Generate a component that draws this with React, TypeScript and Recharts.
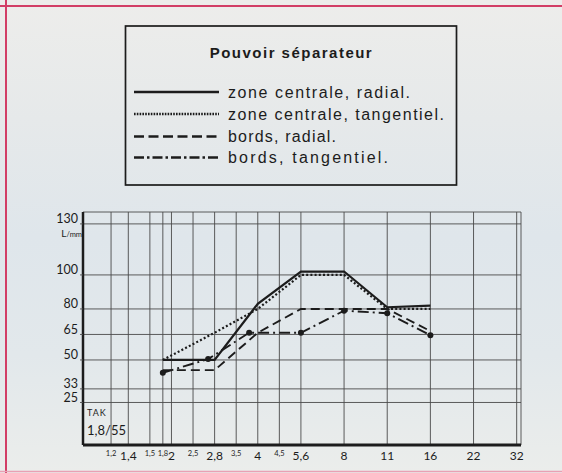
import React from 'react';
import { LineChart, Line, XAxis, YAxis, CartesianGrid } from 'recharts';

const chartTitle = 'Pouvoir séparateur';
const seriesNames = [
  'zone centrale, radial.',
  'zone centrale, tangentiel.',
  'bords, radial.',
  'bords, tangentiel.',
];
const lensName = 'TAK';
const lensSpec = '1,8/55';
const unitLabel = 'L/mm';

// aperture scale: f-number labels and their place on the chart's stop scale
const apertureLabels = ['1,2', '1,4', '1,5', '1,8', '2', '2,5', '2,8', '3,5', '4', '4,5', '5,6', '8', '11', '16', '22', '32'];
const apertureStops = [0.6, 1, 1.5, 1.8, 2, 2.5, 3, 3.5, 4, 4.5, 5, 6, 7, 8, 9, 10];
const majorApertures = ['1,4', '2', '2,8', '4', '5,6', '8', '11', '16', '22', '32'];

const yTicks = [25, 33, 50, 65, 80, 100, 130];

const centralRadialStops = [1.8, 3, 4, 5, 6, 7, 8];
const centralRadialValues = [50, 50, 83, 102, 102, 81, 82];
const centralTangStops = [1.8, 3, 4, 5, 6, 7, 8];
const centralTangValues = [50, 66, 80, 100, 100, 80, 80];
const edgeRadialStops = [1.8, 3, 4, 5, 6, 7, 8];
const edgeRadialValues = [44, 44, 66, 80, 80, 80, 67];
const edgeTangStops = [1.8, 2.85, 3.8, 5, 6, 7, 8];
const edgeTangValues = [42.5, 50.5, 66, 66, 79, 77.5, 64.5];

const zip = (s: number[], v: number[]) => s.map((x, i) => ({ s: x, v: v[i] }));
const centralRadial = zip(centralRadialStops, centralRadialValues);
const centralTang = zip(centralTangStops, centralTangValues);
const edgeRadial = zip(edgeRadialStops, edgeRadialValues);
const edgeTang = zip(edgeTangStops, edgeTangValues);

const INK = '#1c1c1c';
const FONT = 'Lato, "DejaVu Sans", sans-serif';
const LFONT = '"Liberation Sans", Arial, sans-serif';

const lineStyles = [
  { dash: undefined as string | undefined, width: 2.2 },
  { dash: '2 2.2', width: 2.2 },
  { dash: '9 5', width: 1.9 },
  { dash: '11 4 2 4', width: 1.9 },
];
const legendDash = [undefined, '1.6 1.2', '10 4.5', '10 3 2.5 3'];
const legendTextWidths = [182, 216, 108, 160];

const XTick = (props: any) => {
  const { x, y, payload } = props;
  const idx = apertureStops.indexOf(payload.value);
  const label = apertureLabels[idx];
  const major = majorApertures.includes(label);
  return (
    <text
      x={x}
      y={y + (major ? 15 : 11)}
      textAnchor="middle"
      fontSize={major ? 12 : 7.5}
      fontFamily={FONT}
      fill={INK}
    >
      {label}
    </text>
  );
};

const YTick = (props: any) => {
  const { x, y, payload } = props;
  return (
    <g>
      <text x={x} y={y - 0.5} textAnchor="end" fontSize={12.5} fontFamily={FONT} fill={INK}>
        {payload.value}
      </text>
      {payload.value === yTicks[yTicks.length - 1] && (
        <text x={x + 4} y={y + 13} textAnchor="end" fontFamily={FONT} fill={INK}>
          <tspan fontSize={10}>{unitLabel.slice(0, 1)}</tspan>
          <tspan fontSize={7.5}>{unitLabel.slice(1)}</tspan>
        </text>
      )}
    </g>
  );
};

const legendRowsY = [92, 114, 136.5, 157.5];

export default function App() {
  const datasets = [centralRadial, centralTang, edgeRadial, edgeTang];
  return (
    <div
      style={{
        position: 'absolute',
        left: 0,
        top: 0,
        width: 562,
        height: 473,
        overflow: 'hidden',
        background:
          'linear-gradient(180deg, #ededeb 0%, #e6e9ea 25%, #dfe6eb 50%, #e2e8eb 75%, #ebedeb 100%)',
      }}
    >
      <LineChart
        width={562}
        height={473}
        margin={{ top: 212, right: 41, bottom: 0, left: 43 }}
        style={{ position: 'absolute', left: 0, top: 0 }}
      >
        <CartesianGrid stroke="#4a4a4a" strokeWidth={0.9} />
        <XAxis
          dataKey="s"
          type="number"
          domain={[-0.05, 10.1]}
          ticks={apertureStops}
          interval={0}
          height={28}
          tickLine={false}
          tickSize={0}
          tickMargin={0}
          axisLine={{ stroke: INK, strokeWidth: 3 }}
          tick={<XTick />}
          allowDataOverflow
        />
        <YAxis
          type="number"
          domain={[0, 137]}
          ticks={yTicks}
          interval={0}
          width={40}
          tickSize={3}
          tickMargin={2}
          tickLine={{ stroke: '#4a4a4a', strokeWidth: 0.9 }}
          axisLine={{ stroke: INK, strokeWidth: 2.5 }}
          tick={<YTick />}
          allowDataOverflow
        />
        {datasets.map((d, i) => (
          <Line
            key={seriesNames[i]}
            name={seriesNames[i]}
            data={d}
            dataKey="v"
            type="linear"
            stroke={INK}
            strokeWidth={lineStyles[i].width}
            strokeDasharray={lineStyles[i].dash}
            dot={i === 3 ? { r: 3, fill: INK, stroke: INK, strokeWidth: 0 } : false}
            activeDot={false}
            isAnimationActive={false}
          />
        ))}
      </LineChart>
      <svg
        width={562}
        height={473}
        style={{ position: 'absolute', left: 0, top: 0, pointerEvents: 'none' }}
      >
        {/* page frame */}
        <line x1={6} y1={0} x2={6} y2={473} stroke="#d23e66" strokeWidth={2} />
        <line x1={0} y1={6} x2={562} y2={6} stroke="#d23e66" strokeWidth={2} />
        <line x1={0} y1={471.5} x2={562} y2={471.5} stroke="#e9a0b4" strokeWidth={1.5} />
        {/* legend box */}
        <rect x={125.5} y={26} width={331} height={159} fill="none" stroke={INK} strokeWidth={1.7} />
        <text
          x={290.7}
          y={58}
          textAnchor="middle"
          fontFamily={LFONT}
          fontWeight="bold"
          fontSize={15}
          fill={INK}
          textLength={162}
          lengthAdjust="spacing"
        >
          {chartTitle}
        </text>
        {seriesNames.map((n, i) => (
          <g key={n}>
            <line
              x1={134}
              x2={219}
              y1={legendRowsY[i]}
              y2={legendRowsY[i]}
              stroke={INK}
              strokeWidth={2.6}
              strokeDasharray={legendDash[i]}
            />
            <text
              x={228}
              y={legendRowsY[i] + 5.5}
              fontFamily={LFONT}
              fontSize={16}
              fill={INK}
              textLength={legendTextWidths[i]}
              lengthAdjust="spacing"
            >
              {n}
            </text>
          </g>
        ))}
        {/* lens name */}
        <text x={87} y={416} fontFamily={FONT} fontSize={9} letterSpacing={1} fill={INK}>
          {lensName}
        </text>
        <text x={87} y={435} fontFamily={FONT} fontSize={13} fill={INK}>
          {lensSpec}
        </text>
      </svg>
    </div>
  );
}
